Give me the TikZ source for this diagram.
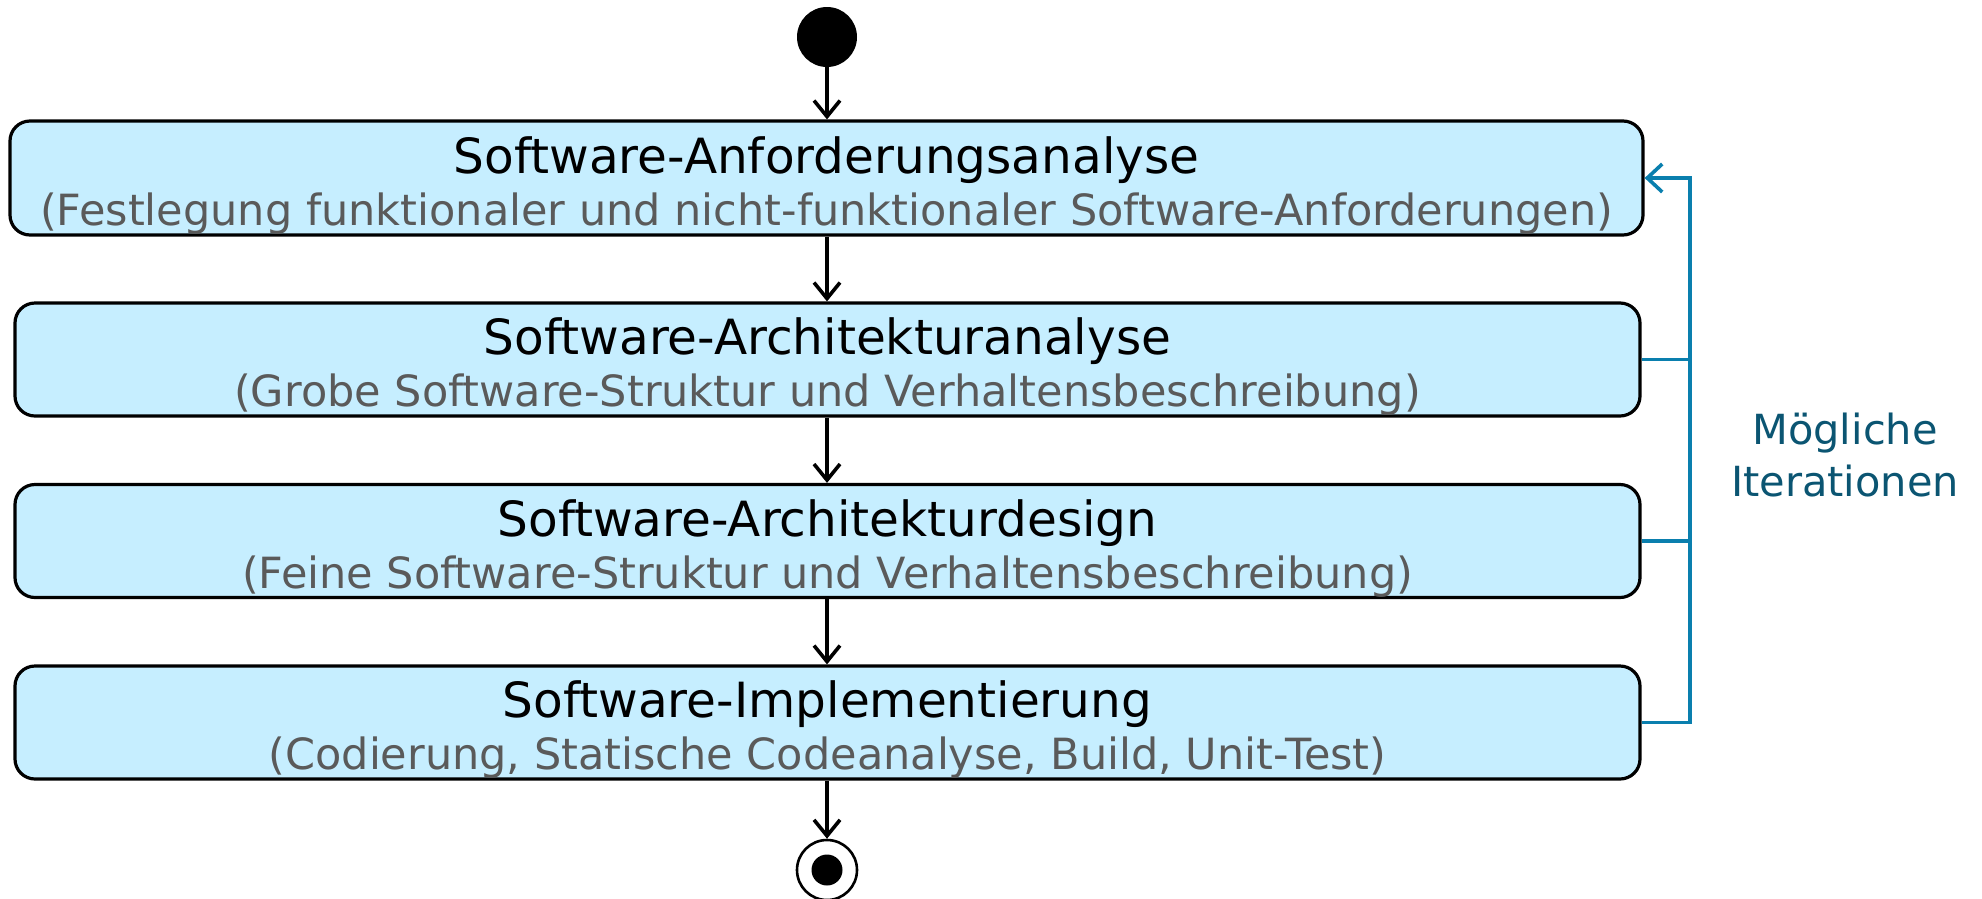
\documentclass[tikz,border=0pt]{standalone}
\usepackage{fontspec}
\setmainfont{DejaVu Sans}
\usetikzlibrary{arrows.meta}
\definecolor{boxfill}{HTML}{C6EEFF}
\definecolor{subgray}{HTML}{5A5A5A}
\definecolor{itline}{HTML}{0A7FAE}
\definecolor{ittext}{HTML}{0B5572}
\tikzset{
  stepbox/.style={draw=black, line width=3.2pt, fill=boxfill, rounded corners=20pt, inner sep=0pt},
  titletext/.style={anchor=base, inner sep=0pt, font=\fontsize{48.5}{56}\selectfont},
  subtext/.style={anchor=base, inner sep=0pt, text=subgray, font=\fontsize{43}{50}\selectfont},
  flow/.style={draw=black, line width=3.6pt, -{Straight Barb[length=16pt, width=26pt, line width=3.6pt]}},
  iter/.style={draw=itline, line width=3.6pt},
}
\begin{document}
\begin{tikzpicture}[x=1pt, y=-1pt]
\useasboundingbox (0,0) rectangle (1982,898);
% start node
\node[circle, fill=black, minimum size=60pt, inner sep=0pt] (start) at (827,37) {};
% boxes
\node[stepbox, minimum width=1633pt, minimum height=114pt] (b1) at (826.5,178) {};
\node[stepbox, minimum width=1625pt, minimum height=113pt] (b2) at (827.5,359.5) {};
\node[stepbox, minimum width=1625pt, minimum height=113pt] (b3) at (827.5,541) {};
\node[stepbox, minimum width=1625pt, minimum height=113pt] (b4) at (827.5,722.5) {};
% texts
\node[titletext] (t1) at ([yshift=5pt]b1.center) {Software-Anforderungsanalyse};
\node[subtext] (s1) at ([yshift=-47pt]b1.center) {(Festlegung funktionaler und nicht-funktionaler Software-Anforderungen)};
\node[titletext] (t2) at ([yshift=5pt]b2.center) {Software-Architekturanalyse};
\node[subtext] (s2) at ([yshift=-47pt]b2.center) {(Grobe Software-Struktur und Verhaltensbeschreibung)};
\node[titletext] (t3) at ([yshift=5pt]b3.center) {Software-Architekturdesign};
\node[subtext] (s3) at ([yshift=-47pt]b3.center) {(Feine Software-Struktur und Verhaltensbeschreibung)};
\node[titletext] (t4) at ([yshift=5pt]b4.center) {Software-Implementierung};
\node[subtext] (s4) at ([yshift=-47pt]b4.center) {(Codierung, Statische Codeanalyse, Build, Unit-Test)};
% end node
\node[circle, draw=black, line width=2.6pt, fill=white, minimum size=60pt, inner sep=0pt] (endo) at (827,870) {};
\node[circle, fill=black, minimum size=31pt, inner sep=0pt] (endi) at (endo.center) {};
% flow arrows
\draw[flow] (start.south) -- (start.south |- b1.north);
\draw[flow] (b1.south -| start) -- (b2.north -| start);
\draw[flow] (b2.south -| start) -- (b3.north -| start);
\draw[flow] (b3.south -| start) -- (b4.north -| start);
\draw[flow] (b4.south -| start) -- (endo.north);
% iteration bracket
\coordinate (rail) at (1690,0);
\draw[iter, -{Straight Barb[length=15pt, width=28pt, line width=3.6pt]}] (b4.east) -- (b4.east -| rail) -- (b1.east -| rail) -- (b1.east);
\draw[iter] (b2.east) -- (b2.east -| rail);
\draw[iter] (b3.east) -- (b3.east -| rail);
\node[text=ittext, align=center, font=\fontsize{41.5}{52}\selectfont, inner sep=0pt] (lbl) at (1845,455) {Mögliche\\Iterationen};
\end{tikzpicture}
\end{document}
